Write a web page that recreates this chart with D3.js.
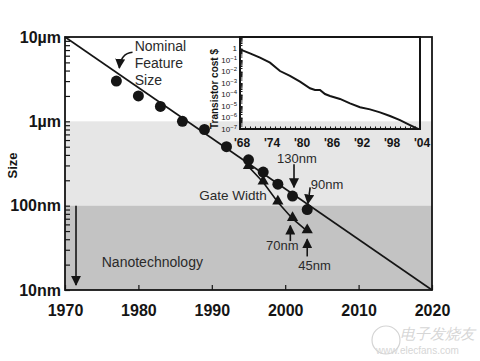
<!DOCTYPE html>
<html>
<head>
<meta charset="utf-8">
<script src="https://cdn.jsdelivr.net/npm/d3@7"></script>
<style>
  body { margin: 0; background: #fff; }
  svg text { font-family: Arial, "Liberation Sans", sans-serif; }
</style>
</head>
<body>
<svg id="chart" width="480" height="361"></svg>
<script>
var featYears = [1977, 1980, 1983, 1986, 1989, 1992, 1995, 1997, 1999, 2001, 2003];
var featSize  = [3, 2, 1.5, 1.0, 0.8, 0.5, 0.35, 0.25, 0.18, 0.13, 0.09];   // µm
var gateYears = [1995, 1997, 1999, 2001, 2003];
var gateSize  = [0.29, 0.19, 0.11, 0.07, 0.05];
var trendYears = [1970, 2020];
var trendSize  = [10, 0.01];
var yearTicks = [1970, 1980, 1990, 2000, 2010, 2020];
var sizeTicks = [10, 1, 0.1, 0.01];
var sizeLabels = ["10\u00b5m", "1\u00b5m", "100nm", "10nm"];

var costYears = [1968, 1970, 1972, 1974, 1976, 1978, 1980, 1982, 1983, 1984, 1985, 1986,
                 1988, 1990, 1992, 1994, 1996, 1998, 2000, 2002, 2003.6];
var costValues = [0.85, 0.38, 0.16, 0.059, 0.011, 0.0041, 0.0013, 3.5e-4, 2.5e-4, 2.5e-4, 1.1e-4, 7.4e-5,
                  4.1e-5, 1.7e-5, 7.8e-6, 5.1e-6, 2.8e-6, 1.35e-6, 6e-7, 2.2e-7, 1e-7];
var costYearTicks = [1968, 1974, 1980, 1986, 1992, 1998, 2004];
var costTicks = [1, 1e-1, 1e-2, 1e-3, 1e-4, 1e-5, 1e-6, 1e-7];

var svg = d3.select("#chart");
var ink = "#151515";

var x = d3.scaleLinear().domain([1970, 2020]).range([65, 432]),
    y = d3.scaleLog().domain([0.01, 10]).range([290, 37]);

/* shaded bands */
svg.append("rect")
  .attr("x", x(1970)).attr("width", x(2020) - x(1970))
  .attr("y", y(1)).attr("height", y(0.1) - y(1))
  .attr("fill", "#e6e6e6");
svg.append("rect")
  .attr("x", x(1970)).attr("width", x(2020) - x(1970))
  .attr("y", y(0.1)).attr("height", y(0.01) - y(0.1))
  .attr("fill", "#c3c3c3");

/* axes */
var minor = [];
[0.01, 0.1, 1].forEach(function(d) {
  for (var k = 1; k < 10; k++) minor.push(d * k);
});
minor.push(10);

var yAxis = svg.append("g")
  .attr("transform", "translate(" + x(1970) + ",0)")
  .call(d3.axisLeft(y).tickValues(minor).tickSize(-5).tickPadding(4)
    .tickFormat(function(d) {
      var i = sizeTicks.findIndex(function(s) { return Math.abs(s - d) < d * 1e-6; });
      return i < 0 ? "" : sizeLabels[i];
    }));
yAxis.select(".domain").remove();
yAxis.selectAll("line").attr("stroke", ink).attr("stroke-width", 1.2);
yAxis.selectAll("text").attr("font-size", 16).attr("font-weight", "bold").attr("fill", ink);

var xAxis = svg.append("g")
  .attr("transform", "translate(0," + y(0.01) + ")")
  .call(d3.axisBottom(x).tickValues(yearTicks).tickSize(-5).tickPadding(15).tickFormat(d3.format("d")));
xAxis.select(".domain").remove();
xAxis.selectAll("line").attr("stroke", ink).attr("stroke-width", 1.2);
xAxis.selectAll("text").attr("font-size", 16).attr("font-weight", "bold").attr("fill", ink);

/* frame */
svg.append("rect")
  .attr("x", x(1970)).attr("y", y(10))
  .attr("width", x(2020) - x(1970)).attr("height", y(0.01) - y(10))
  .attr("fill", "none").attr("stroke", ink).attr("stroke-width", 1.8);

svg.append("text")
  .attr("transform", "translate(17," + (y(0.3)) + ") rotate(-90)")
  .attr("text-anchor", "middle")
  .attr("font-size", 13).attr("font-weight", "bold").attr("fill", ink)
  .text("Size");

/* trend lines */
var line = d3.line()
  .x(function(d) { return x(d[0]); })
  .y(function(d) { return y(d[1]); });

svg.append("path")
  .datum(d3.zip(trendYears, trendSize))
  .attr("d", line)
  .attr("fill", "none").attr("stroke", ink).attr("stroke-width", 1.6);

svg.append("path")
  .datum([[featYears[6], featSize[6]]].concat(d3.zip(gateYears, gateSize)))
  .attr("d", line)
  .attr("fill", "none").attr("stroke", ink).attr("stroke-width", 1.6);

svg.selectAll("path.gate")
  .data(d3.zip(gateYears, gateSize))
  .enter().append("path")
  .attr("class", "gate")
  .attr("transform", function(d) { return "translate(" + x(d[0]) + "," + (y(d[1]) - 1) + ")"; })
  .attr("d", d3.symbol(d3.symbolTriangle).size(55))
  .attr("fill", ink);

svg.selectAll("circle.feat")
  .data(d3.zip(featYears, featSize))
  .enter().append("circle")
  .attr("class", "feat")
  .attr("cx", function(d) { return x(d[0]); })
  .attr("cy", function(d) { return y(d[1]); })
  .attr("r", 5.5)
  .attr("fill", ink);

/* annotations */
var defs = svg.append("defs");
defs.append("marker")
  .attr("id", "head")
  .attr("viewBox", "0 0 10 10")
  .attr("refX", 9).attr("refY", 5)
  .attr("markerWidth", 10).attr("markerHeight", 10)
  .attr("markerUnits", "userSpaceOnUse")
  .attr("orient", "auto")
  .append("path").attr("d", "M0,0 L10,5 L0,10 Z").attr("fill", ink);

function arrow(x1, y1, x2, y2, w) {
  svg.append("line")
    .attr("x1", x(x1)).attr("y1", y(y1))
    .attr("x2", x(x2)).attr("y2", y(y2))
    .attr("stroke", ink).attr("stroke-width", w || 1.6)
    .attr("marker-end", "url(#head)");
}
function label(t, yr, v, size, anchor) {
  svg.append("text")
    .attr("x", x(yr)).attr("y", y(v))
    .attr("dy", "0.35em")
    .attr("text-anchor", anchor || "middle")
    .attr("font-size", size || 13).attr("fill", "#2a2a2a")
    .text(t);
}

label("Nominal", 1979.5, 7.8, 14, "start");
label("Feature", 1979.5, 4.9, 14, "start");
label("Size", 1979.5, 3.1, 14, "start");
svg.append("path")
  .attr("d", "M" + x(1979.2) + "," + y(6.6) + " Q" + x(1977.6) + "," + y(6.4) + " " + x(1977.4) + "," + y(4.3))
  .attr("fill", "none").attr("stroke", ink).attr("stroke-width", 1.6)
  .attr("marker-end", "url(#head)");

label("Gate Width", 1992.9, 0.134, 13.5, "middle");
label("Nanotechnology", 1981.9, 0.0215, 14, "middle");
arrow(1971.5, 0.1, 1971.5, 0.0115, 1.6);

label("130nm", 2001.6, 0.36, 13);
arrow(2001.2, 0.31, 2001.2, 0.165);
label("90nm", 2005.7, 0.18, 13);
arrow(2003.4, 0.165, 2003.1, 0.106);
label("70nm", 1999.6, 0.034, 13);
arrow(2000.7, 0.038, 2000.7, 0.058);
label("45nm", 2004.0, 0.0195, 13);
arrow(2003.0, 0.025, 2003.0, 0.040);

/* inset: transistor cost */
var ix = d3.scaleLinear().domain([1968, 2004]).range([240, 420]),
    iy = d3.scaleLog().domain([1e-7, 10]).range([129, 37]);

var iminor = [];
for (var e = -7; e < 1; e++) for (var k = 1; k < 10; k++) iminor.push(k * Math.pow(10, e));

var iyAxis = svg.append("g")
  .attr("transform", "translate(" + ix(1968) + ",0)")
  .call(d3.axisLeft(iy).tickValues(iminor).tickSize(-2.5).tickPadding(3).tickFormat(""));
iyAxis.select(".domain").remove();
iyAxis.selectAll("line").attr("stroke", ink);

svg.selectAll("text.cost")
  .data(costTicks)
  .enter().append("text")
  .attr("class", "cost")
  .attr("x", ix(1968) - 3)
  .attr("y", function(d) { return iy(d); })
  .attr("dy", "0.35em")
  .attr("text-anchor", "end")
  .attr("font-size", 8).attr("fill", ink)
  .each(function(d) {
    var t = d3.select(this), p = Math.round(Math.log10(d));
    if (p === 0) { t.text("1"); return; }
    t.append("tspan").text("10");
    t.append("tspan").attr("dy", -3).attr("font-size", 6).text(String(p).replace("-", "\u2212"));
  });

var yrs = d3.range(1968, 2005);
var ixAxis = svg.append("g")
  .attr("transform", "translate(0," + iy(1e-7) + ")")
  .call(d3.axisBottom(ix).tickValues(yrs).tickSize(-2.5).tickFormat(""));
ixAxis.select(".domain").remove();
ixAxis.selectAll("line").attr("stroke", ink);

svg.selectAll("text.cyr")
  .data(costYearTicks)
  .enter().append("text")
  .attr("class", "cyr")
  .attr("x", function(d) { return ix(d) + 2; })
  .attr("y", iy(1e-7) + 18)
  .attr("text-anchor", "middle")
  .attr("font-size", 12).attr("font-weight", "bold").attr("fill", ink)
  .text(function(d) { return "'" + String(d).slice(2); });

svg.append("rect")
  .attr("x", ix(1968)).attr("y", iy(10))
  .attr("width", ix(2004) - ix(1968)).attr("height", iy(1e-7) - iy(10))
  .attr("fill", "none").attr("stroke", ink).attr("stroke-width", 2);

svg.append("path")
  .datum(d3.zip(costYears, costValues))
  .attr("d", d3.line().x(function(d) { return ix(d[0]); }).y(function(d) { return iy(d[1]); }))
  .attr("fill", "none").attr("stroke", ink).attr("stroke-width", 2);

svg.append("text")
  .attr("transform", "translate(218," + iy(3e-4) + ") rotate(-90)")
  .attr("text-anchor", "middle")
  .attr("font-size", 10).attr("font-weight", "bold").attr("fill", ink)
  .text("Transistor cost $");

/* watermark */
var wm = svg.append("g").attr("fill", "none").attr("stroke", "#d4d4d4");
wm.append("circle").attr("cx", 386).attr("cy", 340).attr("r", 14).attr("stroke-width", 1.2);
svg.append("text").attr("x", 400).attr("y", 339)
  .attr("font-size", 15).attr("fill", "#d6d6d6").attr("font-style", "italic")
  .text("电子发烧友");
svg.append("text").attr("x", 376).attr("y", 354)
  .attr("font-size", 10).attr("fill", "#d6d6d6")
  .text("www.elecfans.com");
</script>
</body>
</html>
